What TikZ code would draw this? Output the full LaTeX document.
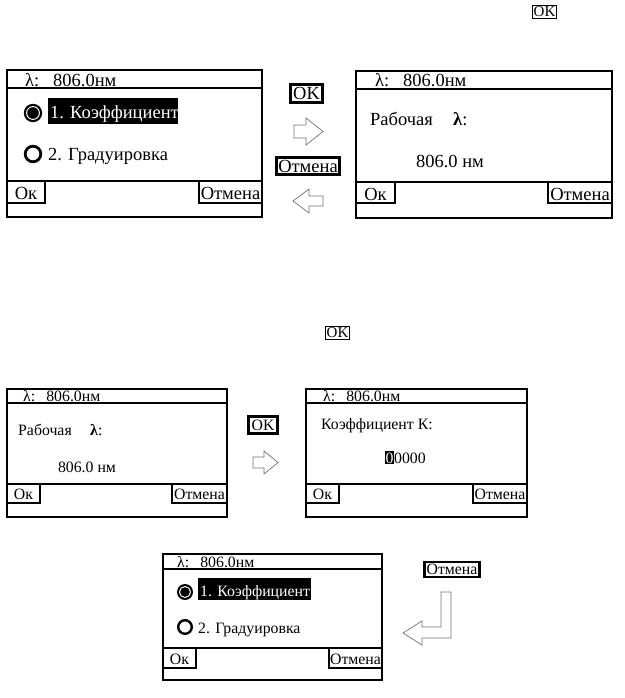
\documentclass[tikz,border=0pt]{standalone}
\usepackage{fontspec}
\setmainfont{Liberation Serif}
\tikzset{
  scr/.style={line width=2.9pt},
  btnbox/.style={draw, line width=2.9pt, inner sep=1.2pt},
  thinbox/.style={draw, line width=0.9pt, inner sep=1.2pt},
  blockarrow/.style={draw=black!55, line width=0.7pt, fill=white, line join=miter},
  big/.style={font=\fontsize{18.5}{20}\selectfont, inner sep=0pt},
  small/.style={font=\fontsize{15.8}{17}\selectfont, inner sep=0pt},
  tiny/.style={font=\fontsize{15}{16}\selectfont},
}
\newcommand\lcdscreen[9]{%
  \draw[scr] (#1,#2) rectangle (#3,#4);
  \draw[scr] (#1,#5) -- (#3,#5);
  \draw[scr] (#1,#6) -- (#3,#6);
  \draw[scr] (#1,#6) rectangle (#7,#9);
  \draw[scr] (#8,#6) rectangle (#3,#9);
}
\begin{document}
\begin{tikzpicture}[x=1pt,y=-1pt]
\useasboundingbox (0,0) rectangle (624,698);

% ---------- Screen 1 ----------
\lcdscreen{7}{70}{262}{217}{88}{181}{45}{199}{203}
\node[big, anchor=base west] (s1t) at (25,87) {λ:\hspace{0.75em}806.0нм};
\fill (33,113) circle (9.2);
\draw[white, line width=1pt] (33,113) circle (6.4);
\fill (48,98) rectangle (178,124);
\node[big, anchor=base west, text=white] (s1a) at (50,118) {1. Коэффициент};
\draw[line width=2.8pt] (33,154) circle (7.8);
\node[big, anchor=base west] (s1b) at (48,160) {2. Градуировка};
\node[big, anchor=base] (s1ok) at (26,199) {Ок};
\node[big, anchor=base] (s1c) at (230.5,199) {Отмена};

% ---------- Screen 2 ----------
\lcdscreen{356}{71}{612}{218}{89}{182}{395}{548}{203}
\node[big, anchor=base west] (s2t) at (375,87) {λ:\hspace{0.75em}806.0нм};
\node[big, anchor=base west] (s2a) at (370,125) {Рабочая};
\node[big, anchor=base west] (s2l) at (453,125) {\textbf{λ}:};
\node[big, anchor=base] (s2v) at (450,167) {806.0 нм};
\node[big, anchor=base] (s2ok) at (375.5,200) {Ок};
\node[big, anchor=base] (s2c) at (580,200) {Отмена};

% ---------- arrows between screens 1 and 2 ----------
\node[btnbox, big, inner sep=3pt] (ok1) at (306.5,93.5) {OK};
\draw[blockarrow] (294,125) -- (306,125) -- (306,118) -- (323,131.5) -- (306,145) -- (306,138) -- (294,138) -- cycle;
\node[btnbox, big, inner sep=2pt] (cn1) at (308,166) {Отмена};
\draw[blockarrow] (323,196) -- (309,196) -- (309,189) -- (293,201) -- (309,213) -- (309,206) -- (323,206) -- cycle;

% ---------- stray OK labels ----------
\node[thinbox, tiny] (okA) at (544.5,12) {OK};
\node[thinbox, tiny] (okB) at (337.5,333) {OK};

% ---------- Screen 3 ----------
\lcdscreen{7}{389}{227}{517}{403}{484}{40}{172}{503}
\node[small, anchor=base west] (s3t) at (23,401) {λ:\hspace{0.7em}806.0нм};
\node[small, anchor=base west] (s3a) at (18,435) {Рабочая};
\node[small, anchor=base west] (s3l) at (90,435) {\textbf{λ}:};
\node[small, anchor=base] (s3v) at (87,472) {806.0 нм};
\node[small, anchor=base] (s3ok) at (23.5,499) {Ок};
\node[small, anchor=base] (s3c) at (199.5,499) {Отмена};

% ---------- arrow between screens 3 and 4 ----------
\node[btnbox, small, inner sep=3pt] (ok2) at (263,425) {OK};
\draw[blockarrow] (253,457) -- (264,457) -- (264,451) -- (278,462.5) -- (264,474) -- (264,468) -- (253,468) -- cycle;

% ---------- Screen 4 ----------
\lcdscreen{306}{389}{527}{517}{403}{484}{339}{473}{503}
\node[small, anchor=base west] (s4t) at (323,401) {λ:\hspace{0.7em}806.0нм};
\node[small, anchor=base west] (s4a) at (321,429) {Коэффициент К:};
\node[small, anchor=base west, fill=black, text=white, inner xsep=0.3pt, inner ysep=1pt] (k0) at (385,463) {0};
\node[small, anchor=base west] (k1) at (k0.base east) {0000};
\node[small, anchor=base] (s4ok) at (322.5,499) {Ок};
\node[small, anchor=base] (s4c) at (500,499) {Отмена};

% ---------- Screen 5 ----------
\lcdscreen{163}{554}{382}{680}{569}{648}{196}{329}{668}
\node[small, anchor=base west] (s5t) at (177,567) {λ:\hspace{0.7em}806.0нм};
\fill (185,592) circle (8);
\draw[white, line width=1pt] (185,592) circle (5.5);
\fill (198,578) rectangle (311,600);
\node[small, anchor=base west, text=white] (s5a) at (200,596) {1. Коэффициент};
\draw[line width=2.4pt] (185,627) circle (6.8);
\node[small, anchor=base west] (s5b) at (198,633) {2. Градуировка};
\node[small, anchor=base] (s5ok) at (179.5,664) {Ок};
\node[small, anchor=base] (s5c) at (355.5,664) {Отмена};

% ---------- return arrow ----------
\node[btnbox, small, line width=2.4pt, inner sep=2pt] (cn2) at (452,569.5) {Отмена};
\draw[blockarrow] (441,592) -- (451,592) -- (451,638) -- (422,638) -- (422,645) -- (403,633) -- (422,621) -- (422,627) -- (441,627) -- cycle;
\end{tikzpicture}
\end{document}
